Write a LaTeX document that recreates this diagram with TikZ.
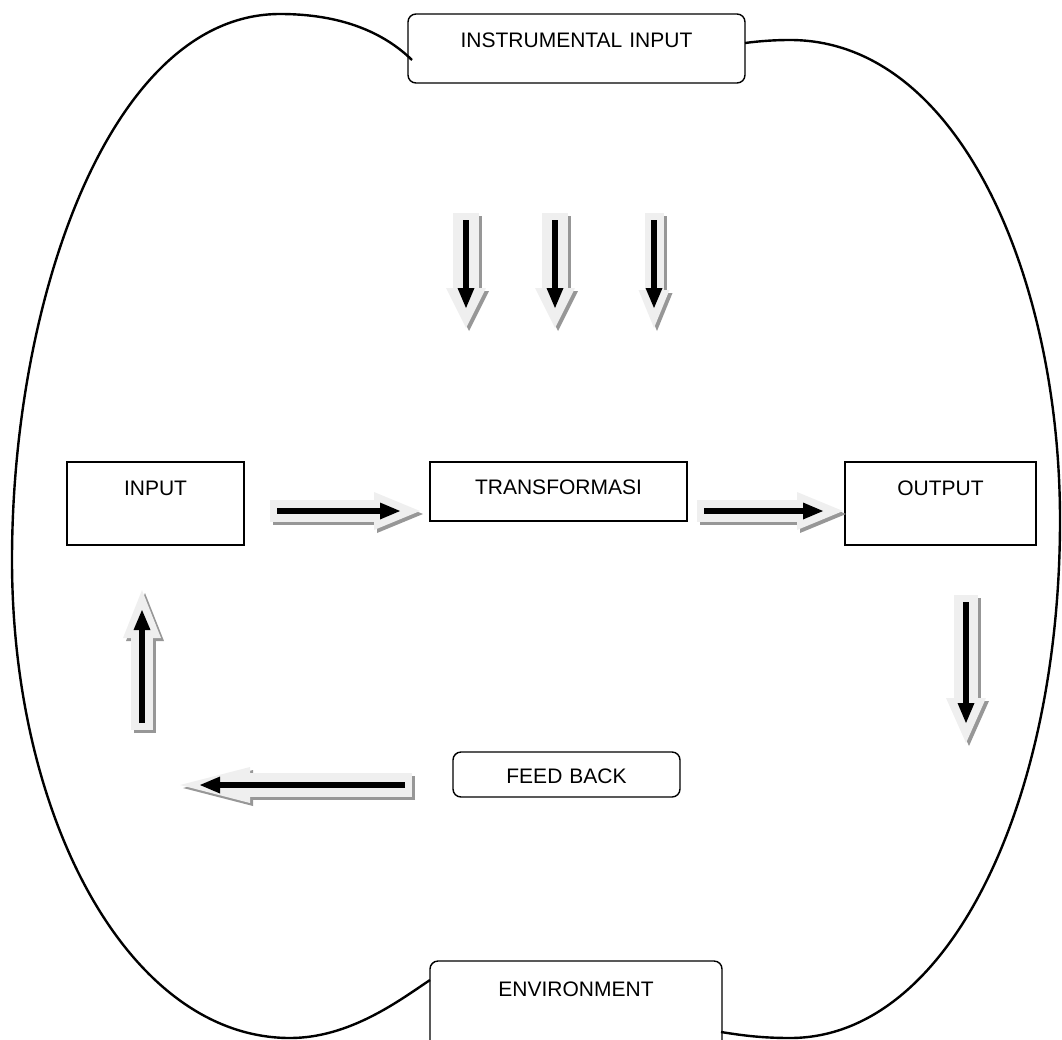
\documentclass[tikz,border=0pt]{standalone}
\usepackage{fontspec}
\setmainfont{Liberation Sans}
\usetikzlibrary{arrows.meta}
\definecolor{shadowgray}{HTML}{979797}
\definecolor{bodygray}{HTML}{EFEFEF}
\begin{document}
\begin{tikzpicture}[x=1pt,y=-1pt,
  box/.style={draw=black, line width=1.4pt, inner sep=0pt, align=center,
              font=\fontsize{21}{25}\selectfont},
  rbox/.style={box, rounded corners=8pt},
  loop/.style={draw=black, line width=2.4pt},
  blockshadow/.style n args={3}{draw=shadowgray, line width=#1,
      transform canvas={xshift=3pt,yshift=-3pt},
      -{Triangle[length=#3,width=#2,line width=0pt]}},
  blockbody/.style n args={3}{draw=bodygray, line width=#1,
      -{Triangle[length=#3,width=#2,line width=0pt]}},
  blackarrow/.style={draw=black, line width=5.5pt, shorten <=7pt, shorten >=20pt,
      -{Triangle[length=20pt,width=17pt,line width=0pt]}}
]
\useasboundingbox (0,0) rectangle (1062,1039);
\clip (0,0) rectangle (1062,1039);

% boxes
\node[rbox, text width=337pt, text height=33pt, text depth=36pt] (instr) at (576.5,48.5) {INSTRUMENTAL INPUT};
\node[rbox, text width=292pt, text height=35pt, text depth=64pt] (env) at (576,1010.5) {ENVIRONMENT};
\node[box, text width=177pt, text height=33pt, text depth=50pt] (input) at (155.5,503.5) {INPUT};
\node[box, text width=257pt, text height=32pt, text depth=27pt] (trans) at (558.5,491.5) {TRANSFORMASI};
\node[box, text width=191pt, text height=33pt, text depth=50pt] (output) at (940.5,503.5) {OUTPUT};
\node[rbox, text width=227pt, text height=31pt, text depth=14pt] (fb) at (566.5,774.5) {FEED BACK};

% attachment points of the environment loop
\coordinate (tl) at (412,60);
\coordinate (tr) at (745,43);
\coordinate (bl) at (430,980);
\coordinate (br) at (721,1032);

% environment loop (left and right lobes)
\draw[loop] (tl) .. controls (375,24) and (325,14) .. (280,14)
  .. controls (110,14) and (12,300) .. (12,560)
  .. controls (12,820) and (130,1038) .. (290,1038)
  .. controls (350,1038) and (400,1000) .. (bl);
\draw[loop] (tr) .. controls (760,41) and (775,40) .. (790,40)
  .. controls (960,40) and (1060,280) .. (1060,520)
  .. controls (1060,800) and (950,1038) .. (790,1038)
  .. controls (760,1038) and (740,1035) .. (br);

% arrow end points
\coordinate (d1s) at (466,213); \coordinate (d1e) at (466,328);
\coordinate (d2s) at (555,213); \coordinate (d2e) at (555,328);
\coordinate (d3s) at (654,213); \coordinate (d3e) at (654,328);
\coordinate (r1s) at (270,511); \coordinate (r1e) at (420,511);
\coordinate (r2s) at (697,511); \coordinate (r2e) at (843,511);
\coordinate (dos) at (966,595); \coordinate (doe) at (966,743);
\coordinate (fbs) at (412,785); \coordinate (fbe) at (180,785);
\coordinate (ups) at (142,730); \coordinate (upe) at (142,590);

% block arrows: shadow, light body, black arrow
\foreach \s/\e/\bw/\hw/\hl in {d1s/d1e/26pt/40pt/40pt, d2s/d2e/26pt/40pt/40pt,
    d3s/d3e/19pt/31pt/38pt, r1s/r1e/22pt/38pt/46pt, r2s/r2e/22pt/38pt/46pt,
    dos/doe/24pt/40pt/45pt, fbs/fbe/24pt/36pt/70pt, ups/upe/22pt/38pt/48pt} {
  \draw[blockshadow={\bw}{\hw}{\hl}] (\s) -- (\e);
  \draw[blockbody={\bw}{\hw}{\hl}] (\s) -- (\e);
  \draw[blackarrow] (\s) -- (\e);
}
\end{tikzpicture}
\end{document}
